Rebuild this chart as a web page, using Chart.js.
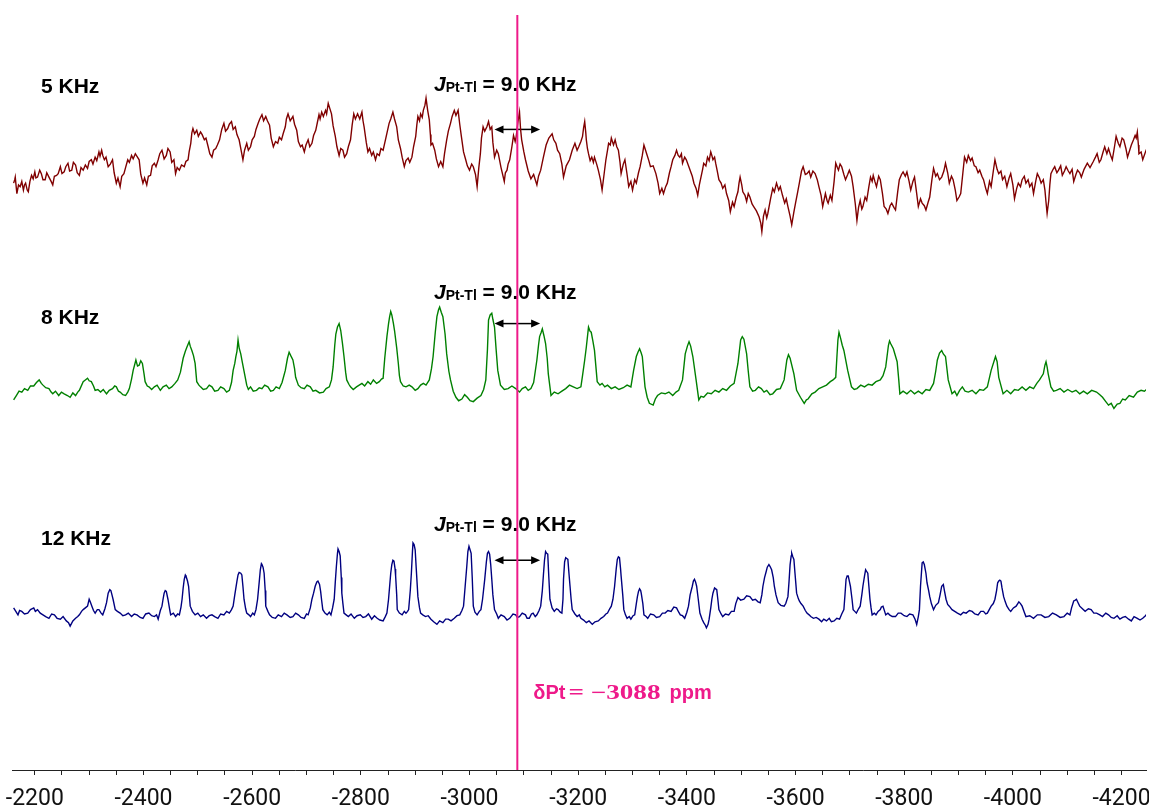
<!DOCTYPE html>
<html lang="en">
<head>
<meta charset="UTF-8">
<title>195Pt MAS NMR - spinning rates</title>
<script src="https://cdn.jsdelivr.net/npm/chart.js"></script>
<style>
    html, body { margin: 0; padding: 0; background: #fff; }
    .chart-box { position: relative; width: 1149px; height: 810px; }
</style>
</head>
<body>
<div class="chart-box"><canvas id="nmrChart"></canvas></div>
<script>
// spinning rates, one trace each (top to bottom)
const spinRates = ['5 KHz', '8 KHz', '12 KHz'];

// spectra: [shift in ppm, intensity in a.u.]
const spectrum5k = [
    [-2161,-22],[-2163,-18],[-2164,-15],[-2166,-28],[-2167,-34],[-2170,-24],[-2173,-26],[-2176,-20],[-2179,-30],[-2181,-24],
    [-2183,-22],[-2186,-30],[-2188,-32],[-2191,-20],[-2194,-13],[-2197,-17],[-2200,-9],[-2202,-16],[-2205,-15],[-2209,-7],
    [-2212,-11],[-2215,-18],[-2219,-18],[-2222,-10],[-2226,-15],[-2230,-20],[-2233,-24],[-2236,-14],[-2240,-13],[-2243,-11],
    [-2247,-3],[-2250,-11],[-2254,-9],[-2257,-3],[-2261,1],[-2264,-8],[-2268,-7],[-2271,2],[-2275,-1],[-2278,-10],
    [-2282,-13],[-2285,-4],[-2289,-7],[-2293,-1],[-2297,-5],[-2300,3],[-2304,5],[-2307,0],[-2311,8],[-2314,4],
    [-2318,14],[-2320,9],[-2323,16],[-2325,10],[-2328,5],[-2331,8],[-2335,-3],[-2339,0],[-2343,5],[-2346,-10],
    [-2350,-22],[-2353,-16],[-2357,-26],[-2360,-14],[-2364,-11],[-2367,-4],[-2371,5],[-2374,2],[-2378,10],[-2381,6],
    [-2385,12],[-2388,9],[-2392,5],[-2395,-12],[-2399,-22],[-2402,-16],[-2406,-24],[-2409,-14],[-2413,-13],[-2416,-2],
    [-2420,1],[-2423,-3],[-2427,5],[-2430,12],[-2434,16],[-2438,6],[-2442,10],[-2445,18],[-2449,14],[-2452,2],
    [-2456,5],[-2459,-11],[-2462,-4],[-2466,-7],[-2470,-1],[-2475,-3],[-2478,3],[-2482,5],[-2484,14],[-2487,24],
    [-2489,36],[-2491,41],[-2494,35],[-2498,39],[-2501,32],[-2505,37],[-2508,34],[-2512,28],[-2515,30],[-2519,20],
    [-2522,12],[-2526,8],[-2529,16],[-2533,18],[-2536,22],[-2540,28],[-2544,40],[-2548,47],[-2551,38],[-2555,41],
    [-2558,46],[-2562,49],[-2565,40],[-2569,43],[-2572,34],[-2576,28],[-2579,18],[-2583,5],[-2586,16],[-2590,24],
    [-2593,16],[-2597,20],[-2600,28],[-2604,32],[-2607,40],[-2611,47],[-2614,52],[-2618,57],[-2621,50],[-2625,55],
    [-2628,50],[-2632,45],[-2635,30],[-2639,20],[-2643,26],[-2647,24],[-2650,31],[-2654,28],[-2657,35],[-2661,43],
    [-2663,52],[-2666,58],[-2670,50],[-2675,55],[-2678,46],[-2682,39],[-2685,26],[-2689,20],[-2692,22],[-2696,14],
    [-2699,22],[-2703,28],[-2706,20],[-2710,24],[-2713,33],[-2717,39],[-2720,48],[-2723,57],[-2725,52],[-2728,60],
    [-2731,55],[-2735,62],[-2737,58],[-2740,70],[-2743,64],[-2746,58],[-2749,44],[-2753,32],[-2756,20],[-2760,10],
    [-2763,18],[-2767,16],[-2770,8],[-2774,12],[-2777,20],[-2781,28],[-2784,45],[-2787,58],[-2790,52],[-2794,58],
    [-2798,52],[-2802,60],[-2804,50],[-2806,43],[-2810,25],[-2813,14],[-2816,18],[-2820,10],[-2823,14],[-2827,5],
    [-2830,12],[-2834,10],[-2837,18],[-2841,16],[-2846,30],[-2852,47],[-2855,52],[-2859,60],[-2862,52],[-2866,43],
    [-2869,28],[-2873,18],[-2876,8],[-2880,-3],[-2883,4],[-2887,7],[-2890,2],[-2894,8],[-2897,20],[-2901,32],
    [-2903,45],[-2905,55],[-2908,50],[-2910,58],[-2913,54],[-2915,62],[-2918,68],[-2920,76],[-2923,62],[-2926,51],
    [-2928,34],[-2929,22],[-2932,24],[-2936,16],[-2939,6],[-2943,-3],[-2947,3],[-2951,-3],[-2954,12],[-2958,28],
    [-2961,38],[-2965,47],[-2968,55],[-2972,62],[-2975,56],[-2979,62],[-2982,46],[-2985,32],[-2989,14],[-2993,5],
    [-2996,-2],[-3000,-7],[-3004,0],[-3007,-3],[-3011,-12],[-3014,-26],[-3017,-5],[-3020,12],[-3022,30],[-3025,43],
    [-3028,38],[-3032,43],[-3035,49],[-3038,40],[-3041,43],[-3043,25],[-3046,8],[-3050,16],[-3053,12],[-3058,-4],
    [-3064,-20],[-3066,-10],[-3069,-7],[-3071,0],[-3074,5],[-3078,20],[-3081,33],[-3084,26],[-3086,32],[-3089,48],
    [-3092,60],[-3094,40],[-3096,28],[-3100,14],[-3103,5],[-3108,-8],[-3113,-17],[-3118,-12],[-3124,-24],[-3127,-14],
    [-3131,-7],[-3136,8],[-3141,22],[-3146,30],[-3152,35],[-3155,28],[-3159,24],[-3162,16],[-3166,12],[-3170,0],
    [-3173,-15],[-3178,-2],[-3184,5],[-3189,16],[-3194,24],[-3198,16],[-3201,20],[-3205,26],[-3208,32],[-3210,42],
    [-3212,49],[-3214,36],[-3215,28],[-3217,18],[-3219,12],[-3222,4],[-3225,8],[-3228,2],[-3230,8],[-3234,0],
    [-3237,-7],[-3241,-18],[-3244,-30],[-3248,-10],[-3251,5],[-3254,16],[-3256,24],[-3259,22],[-3261,30],[-3265,22],
    [-3268,28],[-3271,20],[-3274,16],[-3277,2],[-3279,-11],[-3283,0],[-3286,5],[-3290,-12],[-3293,-26],[-3297,-20],
    [-3300,-30],[-3304,-18],[-3307,-22],[-3311,-10],[-3314,-3],[-3318,10],[-3321,22],[-3324,16],[-3326,12],[-3330,4],
    [-3333,-3],[-3338,-2],[-3343,-11],[-3347,-22],[-3350,-34],[-3354,-28],[-3357,-34],[-3361,-26],[-3364,-22],[-3368,-10],
    [-3371,-3],[-3374,5],[-3378,10],[-3381,16],[-3384,10],[-3387,8],[-3390,12],[-3392,1],[-3396,8],[-3399,5],
    [-3403,-2],[-3406,-7],[-3410,-14],[-3413,-22],[-3417,-28],[-3420,-36],[-3423,-24],[-3426,-15],[-3429,-6],[-3431,1],
    [-3435,-2],[-3438,8],[-3441,4],[-3444,14],[-3446,10],[-3448,5],[-3451,8],[-3453,1],[-3456,-8],[-3459,-18],
    [-3463,-22],[-3466,-28],[-3470,-24],[-3473,-34],[-3477,-42],[-3480,-55],[-3484,-44],[-3487,-49],[-3491,-38],[-3494,-32],
    [-3496,-22],[-3498,-15],[-3501,-24],[-3503,-32],[-3507,-36],[-3510,-43],[-3513,-34],[-3516,-38],[-3520,-46],[-3523,-49],
    [-3528,-54],[-3533,-61],[-3536,-68],[-3538,-78],[-3541,-60],[-3544,-53],[-3547,-62],[-3549,-57],[-3554,-40],[-3558,-28],
    [-3561,-32],[-3565,-22],[-3569,-30],[-3572,-26],[-3576,-36],[-3580,-45],[-3583,-40],[-3586,-49],[-3590,-60],[-3593,-70],
    [-3597,-55],[-3600,-45],[-3604,-32],[-3607,-22],[-3611,-8],[-3614,-3],[-3618,-12],[-3621,-11],[-3625,-8],[-3628,-15],
    [-3632,-8],[-3636,-11],[-3640,-18],[-3643,-26],[-3647,-36],[-3650,-49],[-3653,-40],[-3655,-34],[-3658,-42],[-3660,-45],
    [-3664,-36],[-3667,-42],[-3671,-20],[-3674,1],[-3677,-4],[-3679,-7],[-3682,0],[-3685,-3],[-3689,-12],[-3692,-18],
    [-3696,-12],[-3699,-7],[-3703,-14],[-3706,-26],[-3710,-46],[-3713,-65],[-3716,-50],[-3719,-42],[-3722,-52],[-3724,-49],
    [-3728,-38],[-3731,-42],[-3735,-26],[-3738,-15],[-3741,-20],[-3743,-13],[-3746,-20],[-3749,-26],[-3753,-14],[-3756,-18],
    [-3760,-34],[-3763,-49],[-3767,-52],[-3770,-57],[-3774,-48],[-3777,-45],[-3781,-50],[-3784,-53],[-3788,-32],[-3791,-18],
    [-3795,-12],[-3798,-9],[-3802,-14],[-3805,-9],[-3809,-20],[-3812,-30],[-3816,-20],[-3819,-15],[-3823,-34],[-3826,-49],
    [-3830,-40],[-3833,-45],[-3837,-48],[-3840,-53],[-3844,-44],[-3847,-38],[-3851,-18],[-3854,-5],[-3858,-14],[-3861,-11],
    [-3865,-18],[-3869,-15],[-3873,-8],[-3876,1],[-3880,-10],[-3883,-22],[-3887,-14],[-3890,-18],[-3894,-30],[-3897,-42],
    [-3901,-38],[-3904,-34],[-3908,-10],[-3911,8],[-3915,2],[-3918,10],[-3922,4],[-3925,7],[-3929,-2],[-3932,-3],
    [-3936,-10],[-3939,-7],[-3943,-14],[-3946,-18],[-3950,-28],[-3953,-34],[-3957,-20],[-3960,-26],[-3964,-8],[-3967,5],
    [-3971,-6],[-3974,-11],[-3978,-8],[-3981,-18],[-3985,-14],[-3989,-26],[-3993,-16],[-3996,-11],[-4000,-24],[-4003,-40],
    [-4007,-28],[-4010,-22],[-4014,-26],[-4017,-18],[-4021,-14],[-4024,-22],[-4028,-18],[-4031,-26],[-4035,-22],[-4038,-34],
    [-4042,-20],[-4045,-11],[-4049,-16],[-4052,-22],[-4056,-18],[-4059,-30],[-4061,-44],[-4063,-57],[-4066,-42],[-4068,-24],
    [-4070,-11],[-4074,-6],[-4077,-3],[-4081,-10],[-4084,-7],[-4088,-2],[-4091,-13],[-4095,-8],[-4098,-3],[-4102,-8],
    [-4105,-11],[-4109,-6],[-4112,-20],[-4116,-12],[-4119,-7],[-4123,-10],[-4126,-15],[-4131,-6],[-4137,1],[-4142,-4],
    [-4148,3],[-4152,8],[-4155,12],[-4159,2],[-4162,5],[-4166,14],[-4169,20],[-4173,12],[-4176,18],[-4180,10],
    [-4183,5],[-4187,20],[-4190,32],[-4194,24],[-4197,20],[-4201,30],[-4204,28],[-4208,18],[-4211,8],[-4215,16],
    [-4218,22],[-4222,28],[-4225,33],[-4227,30],[-4229,37],[-4231,22],[-4232,12],[-4236,14],[-4239,5],[-4244,14],
    [-4248,20]
];

const spectrum8k = [
    [-2161,-18],[-2166,-13],[-2171,-8],[-2176,-9],[-2181,-5],[-2187,-7],[-2192,-2],[-2198,-2],[-2203,2],[-2208,5],
    [-2212,1],[-2215,-1],[-2220,-4],[-2226,-5],[-2230,-9],[-2233,-11],[-2238,-8],[-2244,-13],[-2249,-9],[-2254,-11],
    [-2260,-13],[-2265,-15],[-2270,-10],[-2275,-13],[-2279,-9],[-2282,-7],[-2289,3],[-2293,5],[-2297,7],[-2300,4],
    [-2304,3],[-2308,-2],[-2311,-7],[-2316,-6],[-2321,-9],[-2326,-6],[-2332,-11],[-2337,-7],[-2343,-5],[-2347,-2],
    [-2350,-3],[-2354,-8],[-2357,-9],[-2362,-12],[-2367,-13],[-2371,-9],[-2374,-5],[-2378,6],[-2381,16],[-2386,28],
    [-2389,21],[-2392,22],[-2395,27],[-2398,24],[-2401,12],[-2403,3],[-2407,-2],[-2410,-3],[-2415,-6],[-2420,-3],
    [-2425,-1],[-2431,-7],[-2436,-3],[-2442,-1],[-2447,-5],[-2452,-3],[-2458,1],[-2463,5],[-2468,14],[-2473,30],
    [-2477,38],[-2480,43],[-2484,49],[-2486,44],[-2489,39],[-2492,33],[-2495,24],[-2498,3],[-2502,-1],[-2505,-3],
    [-2510,-6],[-2516,-5],[-2521,-1],[-2526,-3],[-2531,-8],[-2537,-7],[-2542,-3],[-2548,-5],[-2553,-9],[-2558,-7],
    [-2562,2],[-2565,16],[-2568,24],[-2570,32],[-2572,38],[-2574,51],[-2576,42],[-2579,35],[-2582,25],[-2586,12],
    [-2590,-1],[-2593,-6],[-2597,-3],[-2602,-8],[-2608,-7],[-2613,-4],[-2618,-5],[-2623,-1],[-2629,-3],[-2634,-8],
    [-2639,-7],[-2644,-3],[-2650,-5],[-2655,2],[-2661,16],[-2665,30],[-2668,37],[-2671,33],[-2675,28],[-2678,18],
    [-2680,8],[-2685,-1],[-2690,-4],[-2696,-5],[-2701,-1],[-2707,-3],[-2712,-8],[-2717,-7],[-2724,-10],[-2731,-9],
    [-2736,-5],[-2742,-3],[-2746,5],[-2749,20],[-2752,45],[-2754,58],[-2757,66],[-2760,70],[-2763,62],[-2766,48],
    [-2769,32],[-2772,14],[-2774,5],[-2778,0],[-2781,-3],[-2786,-6],[-2792,-3],[-2797,-1],[-2802,1],[-2807,-2],
    [-2813,3],[-2818,0],[-2823,5],[-2829,1],[-2834,3],[-2838,6],[-2841,7],[-2844,30],[-2848,55],[-2851,70],
    [-2853,78],[-2855,84],[-2857,80],[-2860,70],[-2862,62],[-2866,42],[-2869,24],[-2871,10],[-2873,3],[-2878,-2],
    [-2883,-3],[-2889,-1],[-2894,-3],[-2900,-7],[-2905,-5],[-2910,-1],[-2915,1],[-2920,-1],[-2926,5],[-2930,18],
    [-2933,32],[-2937,60],[-2940,78],[-2943,86],[-2945,89],[-2948,83],[-2951,78],[-2955,58],[-2958,35],[-2962,15],
    [-2965,5],[-2970,-8],[-2975,-15],[-2980,-19],[-2986,-17],[-2991,-12],[-2996,-15],[-3001,-19],[-3007,-20],[-3014,-16],
    [-3021,-13],[-3026,-6],[-3030,5],[-3033,40],[-3035,74],[-3038,80],[-3041,82],[-3043,75],[-3046,66],[-3049,40],
    [-3052,16],[-3057,-1],[-3064,-6],[-3071,-5],[-3078,-2],[-3085,-5],[-3092,-9],[-3097,-5],[-3103,-3],[-3108,-7],
    [-3113,-5],[-3118,2],[-3124,28],[-3127,45],[-3129,55],[-3132,60],[-3134,64],[-3137,56],[-3140,47],[-3143,30],
    [-3145,12],[-3150,-13],[-3156,-9],[-3163,-11],[-3170,-8],[-3177,-5],[-3184,-1],[-3191,-3],[-3198,-5],[-3205,-3],
    [-3208,10],[-3212,28],[-3215,43],[-3219,66],[-3222,61],[-3224,60],[-3227,50],[-3230,39],[-3235,3],[-3240,-1],
    [-3244,1],[-3249,-3],[-3254,-1],[-3261,-5],[-3268,-3],[-3275,-6],[-3283,-4],[-3290,-1],[-3297,-3],[-3302,16],
    [-3307,32],[-3310,37],[-3313,41],[-3316,36],[-3318,32],[-3323,-3],[-3327,-15],[-3331,-22],[-3338,-24],[-3342,-17],
    [-3346,-13],[-3353,-10],[-3360,-11],[-3367,-9],[-3374,-13],[-3380,-9],[-3385,-7],[-3392,5],[-3397,35],[-3401,44],
    [-3404,49],[-3407,44],[-3411,32],[-3417,5],[-3422,-18],[-3426,-14],[-3431,-15],[-3438,-10],[-3445,-11],[-3452,-7],
    [-3459,-9],[-3466,-5],[-3473,-7],[-3480,-2],[-3487,1],[-3494,24],[-3499,51],[-3502,55],[-3505,52],[-3510,35],
    [-3513,15],[-3516,-3],[-3521,-8],[-3526,-7],[-3532,-3],[-3537,-5],[-3542,-9],[-3547,-7],[-3553,-12],[-3558,-11],
    [-3565,-6],[-3572,-5],[-3579,5],[-3584,28],[-3587,34],[-3590,30],[-3597,12],[-3602,-7],[-3609,-15],[-3616,-22],
    [-3620,-18],[-3623,-17],[-3630,-11],[-3636,-9],[-3643,-5],[-3650,-3],[-3657,-1],[-3664,3],[-3669,5],[-3674,8],
    [-3676,30],[-3678,51],[-3680,60],[-3683,53],[-3686,45],[-3689,39],[-3696,16],[-3703,-3],[-3708,-6],[-3713,-5],
    [-3720,-1],[-3727,-3],[-3734,0],[-3741,-1],[-3748,3],[-3756,5],[-3761,10],[-3766,20],[-3771,45],[-3773,50],
    [-3775,47],[-3780,41],[-3787,26],[-3790,5],[-3792,-11],[-3798,-8],[-3805,-11],[-3812,-7],[-3819,-11],[-3826,-8],
    [-3833,-11],[-3840,-6],[-3847,-7],[-3854,1],[-3858,15],[-3861,28],[-3865,36],[-3869,39],[-3872,35],[-3876,32],
    [-3881,5],[-3888,-11],[-3893,-8],[-3897,-13],[-3902,-7],[-3907,-3],[-3912,-8],[-3918,-9],[-3925,-7],[-3932,-11],
    [-3939,-6],[-3946,-7],[-3953,-3],[-3960,16],[-3966,28],[-3968,32],[-3971,26],[-3974,8],[-3982,-11],[-3989,-7],
    [-3996,-11],[-4003,-6],[-4010,-7],[-4017,-3],[-4024,-7],[-4031,-3],[-4038,-5],[-4044,1],[-4049,5],[-4056,12],
    [-4059,22],[-4061,26],[-4063,20],[-4065,12],[-4070,-3],[-4075,-8],[-4080,-7],[-4087,-5],[-4094,-9],[-4101,-6],
    [-4109,-9],[-4116,-7],[-4123,-11],[-4130,-8],[-4137,-11],[-4145,-7],[-4154,-9],[-4160,-12],[-4165,-15],[-4171,-20],
    [-4176,-24],[-4181,-22],[-4186,-28],[-4192,-23],[-4197,-22],[-4202,-17],[-4207,-18],[-4214,-13],[-4222,-15],[-4229,-9],
    [-4236,-7],[-4242,-8],[-4248,-5]
];

const spectrum12k = [
    [-2161,-5],[-2165,-9],[-2169,-13],[-2172,-8],[-2176,-9],[-2181,-12],[-2187,-11],[-2192,-7],[-2198,-5],[-2201,-9],
    [-2205,-7],[-2210,-11],[-2215,-13],[-2220,-15],[-2226,-17],[-2231,-12],[-2236,-13],[-2241,-17],[-2247,-18],[-2252,-15],
    [-2258,-20],[-2262,-22],[-2265,-26],[-2270,-20],[-2275,-17],[-2279,-15],[-2282,-13],[-2286,-9],[-2289,-7],[-2293,-5],
    [-2297,-3],[-2300,5],[-2302,2],[-2305,-3],[-2308,-8],[-2311,-11],[-2315,-7],[-2318,-7],[-2322,-11],[-2325,-13],
    [-2329,-6],[-2332,1],[-2335,12],[-2338,16],[-2340,15],[-2342,10],[-2344,5],[-2348,-7],[-2352,-9],[-2357,-11],
    [-2362,-14],[-2367,-13],[-2372,-11],[-2378,-15],[-2383,-12],[-2388,-13],[-2394,-16],[-2399,-17],[-2404,-12],[-2410,-11],
    [-2415,-14],[-2420,-15],[-2424,-13],[-2427,-18],[-2431,-8],[-2434,-3],[-2436,5],[-2438,12],[-2440,15],[-2442,14],
    [-2445,5],[-2448,-6],[-2450,-13],[-2455,-11],[-2459,-15],[-2463,-12],[-2466,-13],[-2469,-4],[-2471,5],[-2473,18],
    [-2475,28],[-2477,33],[-2478,32],[-2481,26],[-2483,20],[-2486,-3],[-2490,-9],[-2495,-13],[-2500,-11],[-2505,-15],
    [-2510,-13],[-2516,-17],[-2521,-14],[-2526,-13],[-2531,-15],[-2537,-17],[-2542,-12],[-2548,-13],[-2553,-9],[-2558,-11],
    [-2562,-7],[-2565,-3],[-2568,10],[-2572,26],[-2574,33],[-2576,36],[-2579,35],[-2581,33],[-2583,20],[-2585,5],
    [-2588,-6],[-2590,-11],[-2594,-13],[-2597,-15],[-2601,-11],[-2604,-13],[-2607,-7],[-2610,5],[-2613,25],[-2615,39],
    [-2617,46],[-2618,45],[-2620,42],[-2622,35],[-2624,15],[-2625,-3],[-2629,-9],[-2632,-13],[-2637,-16],[-2643,-17],
    [-2648,-13],[-2654,-15],[-2659,-11],[-2664,-13],[-2670,-16],[-2675,-15],[-2680,-11],[-2685,-13],[-2690,-16],[-2696,-17],
    [-2700,-12],[-2703,-13],[-2707,-5],[-2710,5],[-2713,12],[-2716,20],[-2719,25],[-2721,26],[-2724,22],[-2726,14],
    [-2728,3],[-2730,-7],[-2734,-11],[-2738,-13],[-2742,-10],[-2745,-13],[-2748,-5],[-2751,5],[-2753,25],[-2755,43],
    [-2757,58],[-2758,63],[-2760,60],[-2762,55],[-2764,30],[-2765,12],[-2767,0],[-2769,-11],[-2773,-13],[-2777,-15],
    [-2782,-12],[-2788,-17],[-2793,-14],[-2799,-13],[-2804,-16],[-2809,-15],[-2814,-12],[-2820,-18],[-2825,-14],[-2830,-17],
    [-2835,-19],[-2841,-20],[-2845,-15],[-2848,-11],[-2851,5],[-2853,20],[-2855,35],[-2857,45],[-2859,50],[-2861,49],
    [-2863,40],[-2864,32],[-2866,10],[-2867,-7],[-2871,-11],[-2876,-13],[-2880,-9],[-2883,-11],[-2886,-9],[-2888,-7],
    [-2891,15],[-2893,35],[-2895,60],[-2896,70],[-2898,68],[-2900,62],[-2902,40],[-2905,8],[-2908,-5],[-2910,-11],
    [-2914,-13],[-2919,-15],[-2924,-14],[-2929,-18],[-2934,-21],[-2940,-24],[-2945,-20],[-2951,-22],[-2956,-18],[-2961,-18],
    [-2966,-20],[-2972,-17],[-2977,-14],[-2982,-13],[-2986,-8],[-2989,-3],[-2992,20],[-2995,43],[-2997,60],[-2999,66],
    [-3001,62],[-3003,58],[-3005,30],[-3007,-3],[-3010,-10],[-3014,-13],[-3018,-9],[-3021,-7],[-3024,5],[-3028,28],
    [-3031,48],[-3033,58],[-3035,60],[-3037,57],[-3039,45],[-3041,28],[-3043,10],[-3046,-7],[-3050,-12],[-3053,-17],
    [-3058,-13],[-3064,-15],[-3069,-19],[-3074,-17],[-3080,-12],[-3085,-13],[-3088,-16],[-3092,-15],[-3097,-11],[-3103,-13],
    [-3106,-17],[-3110,-17],[-3114,-12],[-3117,-11],[-3121,-15],[-3124,-13],[-3128,-8],[-3131,-3],[-3134,15],[-3136,33],
    [-3138,50],[-3140,60],[-3142,58],[-3144,57],[-3146,30],[-3148,5],[-3152,-5],[-3156,-9],[-3160,-6],[-3163,-7],
    [-3167,-10],[-3170,-11],[-3172,5],[-3173,28],[-3175,48],[-3177,53],[-3179,52],[-3181,51],[-3183,35],[-3185,20],
    [-3187,5],[-3189,-7],[-3194,-12],[-3198,-15],[-3202,-13],[-3205,-17],[-3210,-19],[-3215,-22],[-3220,-20],[-3226,-24],
    [-3231,-21],[-3237,-20],[-3242,-17],[-3247,-15],[-3251,-12],[-3254,-11],[-3258,-6],[-3261,-3],[-3264,5],[-3267,20],
    [-3270,40],[-3272,51],[-3274,54],[-3276,53],[-3278,40],[-3279,32],[-3282,10],[-3284,-7],[-3287,-13],[-3290,-17],
    [-3294,-15],[-3297,-18],[-3301,-14],[-3304,-13],[-3307,0],[-3309,8],[-3311,14],[-3313,17],[-3315,15],[-3316,12],
    [-3319,0],[-3321,-13],[-3325,-15],[-3328,-17],[-3333,-12],[-3339,-13],[-3344,-16],[-3350,-15],[-3355,-11],[-3360,-11],
    [-3365,-8],[-3371,-9],[-3376,-4],[-3381,-5],[-3385,-10],[-3388,-13],[-3392,-14],[-3396,-17],[-3400,-10],[-3403,-3],
    [-3406,10],[-3410,20],[-3412,26],[-3414,28],[-3416,25],[-3418,20],[-3421,5],[-3424,-11],[-3428,-18],[-3431,-22],
    [-3434,-25],[-3436,-28],[-3439,-24],[-3441,-18],[-3444,-5],[-3446,5],[-3448,12],[-3451,18],[-3453,17],[-3455,16],
    [-3457,5],[-3459,-7],[-3463,-12],[-3466,-15],[-3471,-12],[-3477,-13],[-3482,-9],[-3487,-9],[-3490,0],[-3494,7],
    [-3499,4],[-3505,5],[-3510,9],[-3516,8],[-3521,4],[-3526,5],[-3531,2],[-3535,1],[-3538,10],[-3540,20],
    [-3543,30],[-3546,37],[-3548,42],[-3551,45],[-3553,43],[-3556,39],[-3559,30],[-3561,20],[-3564,10],[-3568,1],
    [-3573,-2],[-3579,-3],[-3582,0],[-3586,8],[-3588,25],[-3590,45],[-3592,55],[-3593,58],[-3595,54],[-3597,51],
    [-3599,35],[-3602,12],[-3605,6],[-3607,3],[-3610,0],[-3614,-3],[-3618,-8],[-3621,-11],[-3625,-13],[-3628,-15],
    [-3633,-17],[-3638,-16],[-3643,-18],[-3648,-21],[-3652,-18],[-3657,-20],[-3662,-17],[-3666,-21],[-3671,-20],[-3676,-17],
    [-3681,-18],[-3685,-12],[-3689,-7],[-3691,10],[-3693,28],[-3695,32],[-3697,32],[-3699,26],[-3701,20],[-3704,5],
    [-3706,-7],[-3709,-9],[-3712,-11],[-3716,-6],[-3719,-3],[-3722,10],[-3724,20],[-3727,32],[-3729,39],[-3731,37],
    [-3733,35],[-3735,20],[-3737,5],[-3739,-5],[-3741,-13],[-3745,-11],[-3748,-13],[-3752,-9],[-3756,-7],[-3758,-4],
    [-3761,-3],[-3764,-9],[-3766,-13],[-3770,-11],[-3773,-13],[-3778,-15],[-3784,-15],[-3789,-11],[-3794,-11],[-3800,-14],
    [-3805,-15],[-3810,-12],[-3816,-13],[-3820,-18],[-3823,-24],[-3826,-15],[-3828,-7],[-3830,20],[-3833,47],[-3835,48],
    [-3837,45],[-3840,35],[-3842,24],[-3845,15],[-3847,8],[-3850,0],[-3854,-7],[-3858,-2],[-3863,1],[-3866,10],
    [-3869,20],[-3872,22],[-3874,15],[-3877,5],[-3880,-1],[-3883,-3],[-3888,-7],[-3893,-9],[-3898,-11],[-3904,-13],
    [-3909,-10],[-3914,-11],[-3920,-8],[-3925,-9],[-3930,-12],[-3936,-13],[-3941,-9],[-3946,-9],[-3950,-12],[-3953,-11],
    [-3960,-3],[-3964,0],[-3967,5],[-3970,15],[-3972,24],[-3974,26],[-3976,27],[-3978,26],[-3980,18],[-3983,8],
    [-3986,2],[-3989,-3],[-3993,-7],[-3996,-9],[-4001,-5],[-4006,-3],[-4009,0],[-4011,2],[-4014,0],[-4017,-3],
    [-4021,-10],[-4024,-15],[-4031,-14],[-4038,-17],[-4045,-13],[-4052,-13],[-4059,-16],[-4066,-15],[-4073,-11],[-4080,-13],
    [-4087,-16],[-4094,-15],[-4100,-11],[-4105,-13],[-4108,-5],[-4112,3],[-4115,4],[-4117,5],[-4120,1],[-4123,-3],
    [-4128,-6],[-4133,-9],[-4139,-6],[-4144,-7],[-4149,-11],[-4154,-11],[-4160,-13],[-4165,-15],[-4171,-11],[-4176,-13],
    [-4181,-16],[-4186,-17],[-4192,-14],[-4197,-18],[-4202,-16],[-4207,-15],[-4213,-18],[-4218,-20],[-4223,-15],[-4229,-17],
    [-4234,-19],[-4239,-17],[-4244,-14],[-4248,-11]
];

// axis ticks (ppm)
const tickValues = [-2200,-2250,-2300,-2350,-2400,-2450,-2500,-2550,-2600,-2650,-2700,-2750,-2800,-2850,-2900,-2950,
    -3000,-3050,-3100,-3150,-3200,-3250,-3300,-3350,-3400,-3450,-3500,-3550,-3600,-3650,-3700,-3750,-3800,-3850,
    -3900,-3950,-4000,-4050,-4100,-4150,-4200];
const tickLabels = [-2200,-2400,-2600,-2800,-3000,-3200,-3400,-3600,-3800,-4000,-4200];

// isotropic shift and the J(Pt-Tl) marker
const deltaPt = -3088;
const couplingText = '9.0 KHz';
const couplingPpm = [-3046, -3130];
const couplingLevel = [40, 70, 50];

// stacking / styling
const traceOffsets = [699, 445, 192];
const traceColors = ['#800000', '#008000', '#000080'];
const rateLabelY = [93, 324, 545];
const couplingLabelY = [91, 299, 531];
const sans = '"Liberation Sans", Arial, sans-serif';

const spectra = [spectrum5k, spectrum8k, spectrum12k];

function drawCouplingLabel(ctx, x0, base) {
    ctx.font = 'italic bold 21px ' + sans;
    ctx.fillText('J', x0, base);
    let x = x0 + ctx.measureText('J').width;
    ctx.font = 'bold 14px ' + sans;
    ctx.fillText('Pt-Tl', x, base + 1);
    x += ctx.measureText('Pt-Tl').width;
    ctx.font = 'bold 21px ' + sans;
    ctx.fillText(' = ' + couplingText, x, base);
}

function drawDoubleArrow(ctx, xa, xb, yy) {
    const head = 9, half = 4;
    ctx.beginPath();
    ctx.moveTo(xa + head - 1, yy);
    ctx.lineTo(xb - head + 1, yy);
    ctx.stroke();
    ctx.beginPath();
    ctx.moveTo(xa, yy); ctx.lineTo(xa + head, yy - half); ctx.lineTo(xa + head, yy + half);
    ctx.closePath(); ctx.fill();
    ctx.beginPath();
    ctx.moveTo(xb, yy); ctx.lineTo(xb - head, yy - half); ctx.lineTo(xb - head, yy + half);
    ctx.closePath(); ctx.fill();
}

const annotations = {
    id: 'annotations',
    beforeDatasetsDraw(chart) {
        const { ctx, scales: { x, y } } = chart;
        ctx.save();
        ctx.fillStyle = '#000';
        ctx.strokeStyle = '#000';
        ctx.lineWidth = 1.5;
        ctx.textBaseline = 'alphabetic';
        const xa = Math.min(x.getPixelForValue(couplingPpm[0]), x.getPixelForValue(couplingPpm[1]));
        const xb = Math.max(x.getPixelForValue(couplingPpm[0]), x.getPixelForValue(couplingPpm[1]));
        spinRates.forEach((rate, i) => {
            ctx.font = 'bold 21px ' + sans;
            ctx.fillText(rate, 41, rateLabelY[i]);
            drawCouplingLabel(ctx, 434, couplingLabelY[i]);
            drawDoubleArrow(ctx, xa, xb, y.getPixelForValue(traceOffsets[i] + couplingLevel[i]));
        });
        ctx.restore();
    },
    afterDatasetsDraw(chart) {
        const { ctx, scales: { x } } = chart;
        const x0 = x.getPixelForValue(deltaPt) + 16;
        const base = 699;
        ctx.save();
        ctx.fillStyle = '#ee1a8a';
        ctx.textBaseline = 'alphabetic';
        ctx.font = 'bold 20px ' + sans;
        ctx.fillText('\u03B4Pt', x0, base);
        let xx = x0 + ctx.measureText('\u03B4Pt').width + 3;
        ctx.font = 'bold 20px "Liberation Serif", "Times New Roman", serif';
        const mid = '= \u22123088';
        const w = ctx.measureText(mid).width;
        ctx.save();
        ctx.translate(xx, base);
        ctx.scale(92 / w, 1);
        ctx.fillText(mid, 0, 0);
        ctx.restore();
        xx += 92 + 9;
        ctx.font = 'bold 20px ' + sans;
        ctx.fillText('ppm', xx, base);
        ctx.restore();
    }
};

const datasets = [{
    label: 'deltaPt',
    data: [{ x: deltaPt, y: 0 }, { x: deltaPt, y: 871 }],
    borderColor: '#ee1a8a',
    borderWidth: 2,
    pointRadius: 0,
    showLine: true
}];
spectra.forEach((spec, i) => {
    datasets.push({
        label: spinRates[i],
        data: spec.map(p => ({ x: p[0], y: p[1] + traceOffsets[i] })),
        borderColor: traceColors[i],
        borderWidth: 1.4,
        pointRadius: 0,
        showLine: true,
        tension: 0
    });
});

new Chart(document.getElementById('nmrChart'), {
    type: 'scatter',
    data: { datasets: datasets },
    options: {
        responsive: true,
        maintainAspectRatio: false,
        animation: false,
        layout: { padding: { left: 12, right: 3, top: 15, bottom: 0 } },
        plugins: { legend: { display: false }, tooltip: { enabled: false } },
        scales: {
            x: {
                type: 'linear',
                reverse: true,
                min: -4245,
                max: -2158,
                afterBuildTicks: scale => { scale.ticks = tickValues.map(v => ({ value: v })); },
                afterFit: scale => { scale.height = 40; scale.paddingLeft = 0; scale.paddingRight = 0; },
                grid: { drawOnChartArea: false, drawTicks: true, tickLength: 5, color: '#222', lineWidth: 1 },
                border: { display: true, color: '#222', width: 1 },
                ticks: {
                    autoSkip: false,
                    maxRotation: 0,
                    padding: 10,
                    color: '#111',
                    font: { family: 'Roboto', size: 23 },
                    callback: v => tickLabels.includes(v) ? String(v) : ''
                }
            },
            y: { display: false, min: 0, max: 871 }
        }
    },
    plugins: [annotations]
});
</script>
</body>
</html>
